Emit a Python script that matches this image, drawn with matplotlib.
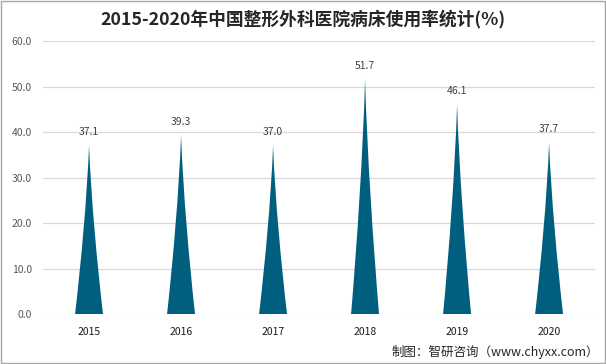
import matplotlib.pyplot as plt
from matplotlib.path import Path
from matplotlib.patches import PathPatch, Rectangle

plt.rcParams['font.family'] = ['Noto Sans CJK SC', 'DejaVu Sans']

years = ['2015', '2016', '2017', '2018', '2019', '2020']
usage = [37.1, 39.3, 37.0, 51.7, 46.1, 37.7]
yticks = [0, 10, 20, 30, 40, 50, 60]

spike_color = '#005f7f'
half_w = 0.152


def spike(x, v, hw):
    # slightly concave spike from the base up to the value
    verts = [(x - hw, 0), (x + hw, 0),
             (x + hw * 0.58, v * 0.3), (x + hw * 0.15, v * 0.68), (x, v),
             (x - hw * 0.15, v * 0.68), (x - hw * 0.58, v * 0.3), (x - hw, 0),
             (x - hw, 0)]
    codes = [Path.MOVETO, Path.LINETO,
             Path.CURVE4, Path.CURVE4, Path.CURVE4,
             Path.CURVE4, Path.CURVE4, Path.CURVE4,
             Path.CLOSEPOLY]
    return Path(verts, codes)


fig = plt.figure(figsize=(6.06, 3.64), dpi=100)
ax = fig.add_axes([0.071, 0.137, 0.911, 0.750])

for i, v in enumerate(usage):
    ax.add_patch(PathPatch(spike(i, v, half_w), facecolor=spike_color,
                           edgecolor='none', zorder=3))
    ax.annotate(f'{v:.1f}', (i, v), xytext=(0, 6), textcoords='offset points',
                ha='center', va='bottom', fontsize=7.5, color='#404040')

ax.set_xlim(-0.5, len(years) - 0.5)
ax.set_ylim(0, 60)
ax.set_xticks(range(len(years)))
ax.set_xticklabels(years, fontsize=7.5, color='#1a1a1a')
ax.set_yticks(yticks)
ax.set_yticklabels([f'{t:.1f}' for t in yticks], fontsize=7.5, color='#595959')
ax.tick_params(length=0)
ax.tick_params(axis='x', pad=9)
ax.tick_params(axis='y', pad=8)
ax.grid(axis='y', color='#d9d9d9', linewidth=0.9)
ax.set_axisbelow(True)
for s in ax.spines.values():
    s.set_visible(False)

fig.text(0.5, 0.948, '2015-2020年中国整形外科医院病床使用率统计(%)',
         ha='center', va='center', fontsize=12.8, fontweight='bold', color='#262626')
fig.text(0.988, 0.033, '制图：智研咨询（www.chyxx.com）', ha='right', va='center',
         fontsize=9, color='#262626')

fig.patches.append(Rectangle((0.001, 0.002), 0.997, 0.996, transform=fig.transFigure,
                             fill=False, edgecolor='#a6a6a6', linewidth=1))

fig.savefig('out.png', dpi=100)
